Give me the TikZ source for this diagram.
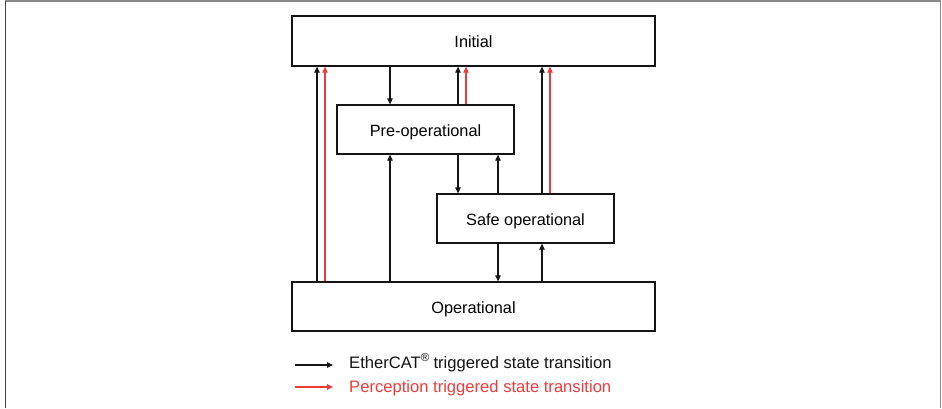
\documentclass[tikz,border=0pt]{standalone}
\usepackage{fontspec}
\setmainfont{Liberation Sans}
\usetikzlibrary{arrows.meta}
\definecolor{ink}{HTML}{141414}
\definecolor{frameink}{HTML}{8A8A8A}
\definecolor{percred}{HTML}{EE3B3B}
\tikzset{
  statebox/.style={draw=ink,line width=1.3pt,inner sep=0pt,text height=13pt,text depth=0pt,
    font=\fontsize{16.3}{19}\selectfont},
  legendtxt/.style={font=\fontsize{16.6}{19}\selectfont,anchor=base west,inner sep=0pt},
  trans/.style={draw=ink,line width=1.2pt,-{Triangle[length=6pt,width=5.5pt]}},
  perc/.style={trans,draw=percred,-{Triangle[length=6pt,width=5.5pt,fill=percred]}},
}
\begin{document}
\begin{tikzpicture}[x=1pt,y=-1pt]
        \useasboundingbox (0,0) rectangle (942,408);
        % frame
        \draw[frameink,line width=1.5pt] (5.5,408) -- (5.5,1) -- (940.5,1) -- (940.5,408);
        \draw[ink!80,line width=1.5pt] (5.5,408) -- (5.5,1);
        % states
        \node[statebox,minimum width=363pt,minimum height=50pt] (init) at (473.5,41) {Initial};
        \node[statebox,minimum width=177pt,minimum height=49pt] (preop) at (425.5,129.5) {Pre-operational};
        \node[statebox,minimum width=177pt,minimum height=49pt] (safeop) at (525.5,218.5) {Safe operational};
        \node[statebox,minimum width=363pt,minimum height=49pt] (op) at (473.5,306.5) {Operational};
        % columns
        \coordinate (c1) at (317,0);
        \coordinate (c1r) at (325,0);
        \coordinate (c2) at (390,0);
        \coordinate (c3) at (458,0);
        \coordinate (c3r) at (466,0);
        \coordinate (c4) at (498,0);
        \coordinate (c5) at (542,0);
        \coordinate (c5r) at (550,0);
        % transitions
        \draw[trans] (op.north -| c1) -- (init.south -| c1);
        \draw[perc] (op.north -| c1r) -- (init.south -| c1r);
        \draw[trans] (init.south -| c2) -- (preop.north -| c2);
        \draw[trans] (preop.north -| c3) -- (init.south -| c3);
        \draw[perc] (preop.north -| c3r) -- (init.south -| c3r);
        \draw[trans] (safeop.north -| c5) -- (init.south -| c5);
        \draw[perc] (safeop.north -| c5r) -- (init.south -| c5r);
        \draw[trans] (op.north -| c2) -- (preop.south -| c2);
        \draw[trans] (preop.south -| c3) -- (safeop.north -| c3);
        \draw[trans] (safeop.north -| c4) -- (preop.south -| c4);
        \draw[trans] (safeop.south -| c4) -- (op.north -| c4);
        \draw[trans] (op.north -| c5) -- (safeop.south -| c5);
        % legend
        \coordinate (lgA) at (295,365);
        \coordinate (lgB) at (295,387);
        \node[legendtxt,text=ink] (lgAtxt) at (349,368) {EtherCAT\textsuperscript{\textregistered}\kern-1pt{} triggered state transition};
        \node[legendtxt,text=percred] (lgBtxt) at (349,392) {Perception triggered state transition};
        \draw[trans] (lgA) -- ++(38,0);
        \draw[perc] (lgB) -- ++(38,0);
      \end{tikzpicture}
\end{document}
